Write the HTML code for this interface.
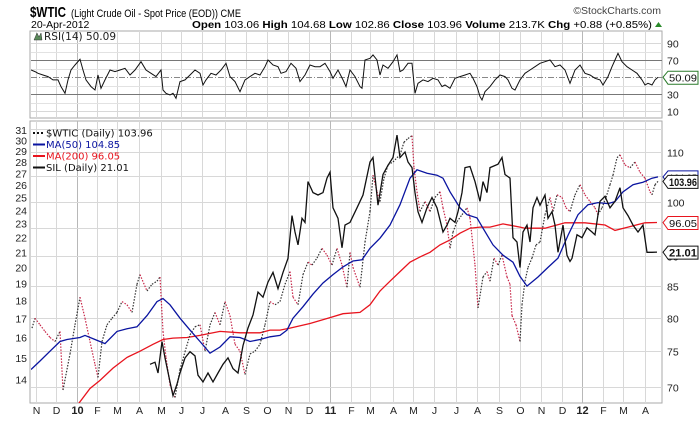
<!DOCTYPE html>
<html><head><meta charset="utf-8">
<style>
html,body{margin:0;padding:0;background:#fff;}
svg{display:block;font-family:"Liberation Sans",sans-serif;}
</style></head>
<body>
<svg id="chart" width="700" height="421" viewBox="0 0 700 421">
<g>
<text x="30" y="17" font-size="15" font-weight="bold" textLength="36" lengthAdjust="spacingAndGlyphs">$WTIC</text>
<text x="71" y="17" font-size="11" textLength="170" lengthAdjust="spacingAndGlyphs">(Light Crude Oil - Spot Price (EOD)) CME</text>
<text x="661" y="14" font-size="10.5" text-anchor="end" fill="#444">©StockCharts.com</text>
<text x="31" y="28" font-size="10.5">20-Apr-2012</text>
<text x="652" y="28" font-size="10" text-anchor="end" textLength="460" lengthAdjust="spacingAndGlyphs"><tspan font-weight="bold">Open</tspan> 103.06 <tspan font-weight="bold">High</tspan> 104.68 <tspan font-weight="bold">Low</tspan> 102.86 <tspan font-weight="bold">Close</tspan> 103.96 <tspan font-weight="bold">Volume</tspan> 213.7K <tspan font-weight="bold">Chg</tspan> +0.88 (+0.85%)</text>
<path d="M655 27 L658.5 22 L662 27 Z" fill="#2a8a2a"/>
</g>
<g id="grid"></g>
<g id="rsi"></g>
<g id="main"></g>
<g id="axes"></g>
</svg>
<script>
// ---- data (day index = trading-day position from start) ----
const monthLabels = ["N","D","10","F","M","A","M","J","J","A","S","O","N","D","11","F","M","A","M","J","J","A","S","O","N","D","12","F","M","A"];
const monthDays = [5,25,46,66,86,108,130,150,171,194,215,236,257,278,299,320,339,362,382,403,425,446,468,489,510,531,551,572,592,614];
const rightTicks = [70,75,80,85,90,95,100,105,110,115];
const rightTickLabels = [70,75,80,85,90,null,100,null,110,null];
const leftTicks = [14,15,16,17,18,19,20,21,22,23,24,25,26,27,28,29,30,31];
const rsiTicks = [10,30,50,70,90];

const wtiDays = [1,4,9,14,19,24,29,32,39,44,49,54,59,64,67,71,76,81,86,91,96,101,106,109,116,121,126,129,132,135,139,144,149,154,159,164,169,174,179,184,189,194,199,204,209,214,219,224,229,234,239,244,249,254,259,262,267,272,277,281,286,291,296,301,306,311,316,319,322,329,334,339,342,346,349,353,357,362,366,369,373,377,381,383,386,389,394,399,404,409,412,416,419,422,426,431,436,439,444,447,452,456,459,463,467,471,476,479,481,485,489,491,494,497,501,505,509,514,519,522,526,531,535,539,544,549,554,559,564,567,571,575,579,582,586,589,594,599,604,609,614,619,621,624,627];
const wtiVals = [78.4,79.9,78.9,77.9,77.0,76.4,77.9,69.6,74.6,78.9,83.2,79.9,76.4,73.1,71.3,76.4,78.9,79.9,80.8,82.5,82.0,80.8,85.3,86.9,84.2,85.3,85.8,86.5,77.9,74.1,70.3,68.6,72.4,74.9,77.4,78.6,78.9,75.0,78.9,80.8,78.9,82.5,80.3,76.0,75.0,71.7,74.6,75.0,76.0,78.9,82.5,82.0,82.5,85.3,87.4,83.2,82.0,86.9,89.0,88.5,89.7,91.4,90.2,88.5,91.4,88.5,84.8,90.7,88.1,84.8,92.5,98.1,105.2,101.9,100,104.6,107.3,107.9,108.8,109.4,112.1,112.9,113.5,106.7,101.9,98.1,100,98.1,100.8,101.9,98.8,95.6,91.4,94.3,96.2,97.5,98.8,96.9,88.5,81.5,86.5,87.4,85.8,89.7,88.5,90.2,86.5,85.3,80.3,78.9,76.4,82.0,85.8,88.1,89.7,92.0,92.5,97.5,100.8,98.1,101.3,100.8,98.8,98.1,101.3,103.3,101.3,100,98.8,97.5,98.8,100.8,103.3,105.2,108.8,109.4,107.3,106.7,107.9,105.8,104.6,101.9,101.3,103.3,103.96];

const silDays = [119,124,127,131,134,139,142,146,149,154,159,164,167,172,177,182,187,192,197,202,207,212,217,222,227,232,237,242,247,252,257,261,264,267,271,274,277,282,287,292,296,299,302,307,311,314,319,326,332,339,342,347,352,357,362,366,369,374,377,381,384,387,391,396,401,406,412,416,419,424,427,431,434,439,444,449,452,456,459,467,471,474,479,482,486,489,492,496,499,502,506,509,514,517,521,524,527,532,536,539,541,546,551,556,561,564,569,574,579,584,589,592,597,602,607,612,616,621,626];
const silVals = [14.7,14.8,14.3,15.8,15.0,13.9,13.3,13.8,14.3,15.0,15.3,15.1,14.2,13.9,14.3,13.9,14.3,14.7,15.0,14.5,14.3,15.6,16.5,17.2,18.5,18.2,19.1,19.7,18.7,19.7,20.6,23.6,22.4,21.5,23.4,23.1,26.3,25.4,25.2,25.4,26.6,27.1,24.2,23.4,21.3,22.9,23.1,24.2,25.2,28.0,28.4,24.4,26.9,27.7,28.4,30.5,28.4,28.9,28.0,27.5,25.4,23.9,23.1,24.2,25.0,24.2,22.4,22.9,23.4,23.1,23.9,25.4,27.5,27.6,26.3,24.7,26.3,25.4,27.5,27.8,28.4,26.9,26.6,22.0,21.7,20.0,22.4,22.9,21.7,24.2,25.0,24.4,25.2,23.4,23.9,22.9,21.0,22.9,20.8,20.4,20.6,22.2,22.0,22.7,22.4,22.2,24.7,25.1,24.2,24.7,25.8,24.2,23.6,22.9,22.4,22.9,21.0,21.0,21.01];

const ma50Days = [0,9,19,29,36,49,54,64,74,86,96,106,116,126,132,139,149,159,169,179,189,199,209,219,229,239,249,256,262,272,282,292,302,312,322,331,339,349,359,369,379,386,396,406,412,419,429,436,446,452,462,472,482,489,496,507,517,527,537,547,557,567,577,584,592,602,612,621,627];
const ma50Vals = [72.4,73.6,75.0,76.4,76.7,77.0,77.3,76.7,76.1,77.9,78.3,78.6,80.3,82.5,83.0,82.0,79.9,78.1,76.4,74.7,75.6,77.1,77.0,76.4,76.7,77.1,77.3,78.1,79.9,81.7,83.7,85.5,86.9,88.2,89.2,89.4,91.4,93.2,95.6,99.4,104.6,106.3,105.6,105.2,104.6,101.9,98.8,97.5,96.9,95.0,92.0,90.2,89.0,86.6,85.0,86.5,88.1,89.7,93.7,97.5,99.4,99.8,99.6,100,101.9,103.3,103.8,104.6,104.85];

const ma200Days = [47,59,69,82,96,109,122,132,142,156,169,179,189,209,229,239,249,259,279,299,312,329,339,349,359,369,379,389,399,409,419,429,439,449,459,472,489,494,514,534,554,574,584,597,614,626];
const ma200Vals = [67.7,69.8,70.9,72.6,74.1,75.0,76.0,76.7,76.9,77.0,77.3,77.6,77.9,77.7,77.7,78.1,78.1,78.4,79.1,80.0,80.6,80.8,82.0,84.2,85.8,87.4,89.0,89.9,90.7,92.0,92.9,94.1,95.0,95.2,95.2,95.8,95.2,95.0,95.0,96.0,96.0,95.6,94.6,95.2,96.0,96.05];

const rsiDays = [0,4,7,12,17,22,27,30,34,37,40,44,49,52,55,60,64,67,70,74,79,84,89,94,99,104,110,115,120,125,130,132,135,139,142,145,149,154,159,164,169,172,175,180,185,190,195,199,204,209,214,219,224,229,234,237,242,247,250,255,260,265,269,274,279,284,289,294,299,302,307,312,315,319,324,329,331,334,339,342,346,349,352,357,362,366,369,372,377,381,384,387,392,397,402,407,411,414,419,424,429,434,439,442,446,449,451,454,459,464,469,474,477,481,484,489,494,499,504,509,514,519,524,529,534,539,544,549,554,559,564,569,572,577,581,584,587,591,596,601,606,611,614,617,621,624,627];
const rsiVals = [58.6,56.7,54.7,52.7,50.8,46.9,46.9,39.0,31.2,46.9,58.6,64.5,71.2,58.6,46.9,39.0,35.1,52.7,37.1,46.9,58.6,56.7,58.6,60.6,52.7,58.6,68.4,58.6,54.7,50.8,58.6,35.1,31.2,29.2,31.2,25.3,44.9,46.9,52.7,58.6,54.7,41.0,46.9,54.7,52.7,58.6,66.5,50.8,44.9,33.1,46.9,50.8,54.7,52.7,62.5,70.4,64.5,62.5,54.7,56.7,66.5,60.6,44.9,52.7,64.5,62.5,62.5,66.5,56.7,48.8,58.6,46.9,39.0,58.6,50.8,39.0,37.1,70.4,72.4,76.3,70.4,52.7,64.5,60.6,68.4,76.3,56.7,58.6,66.5,66.5,31.2,42.9,46.9,44.9,48.8,46.9,39.0,41.0,37.1,48.8,50.8,52.7,54.7,48.8,39.0,27.3,23.3,33.1,39.0,46.9,52.7,50.8,46.9,37.1,35.1,46.9,54.7,58.6,62.5,66.5,68.4,70.4,62.5,64.5,58.6,42.9,58.6,64.5,54.7,52.7,48.8,46.9,41.0,50.8,62.5,70.4,78.2,68.4,62.5,58.6,54.7,46.9,41.0,42.9,41.0,46.9,50.09];

// ---- scales ----
const PL = 31, PR = 662, RT = 31, RB = 118, MT = 121, MB = 403;
function xOf(d){ return PL + d; }
function yW(v){ return 152 - 520 * Math.log(v / 110); }
function yS(v){ return 130 - 314 * Math.log(v / 31); }
function yR(v){ return 77.3 - (v - 50) * 0.85; }

const NS = "http://www.w3.org/2000/svg";
function mk(tag, attrs, parent){
  const el = document.createElementNS(NS, tag);
  for (const k in attrs) el.setAttribute(k, attrs[k]);
  parent.appendChild(el);
  return el;
}
const svg = document.getElementById('chart');
const gGrid = document.getElementById('grid');
const gRsi = document.getElementById('rsi');
const gMain = document.getElementById('main');
const gAxes = document.getElementById('axes');

const defs = mk('defs', {}, svg);
const cm = mk('clipPath', {id:'clipMain'}, defs);
mk('rect', {x:PL, y:MT, width:PR-PL, height:MB-MT}, cm);
const cr = mk('clipPath', {id:'clipRsi'}, defs);
mk('rect', {x:PL, y:RT, width:PR-PL, height:RB-RT}, cr);

const rsiBox = mk('rect', {x:PL-1, y:RT, width:PR-PL+1, height:RB-RT, fill:'#fff', stroke:'#aaa', 'stroke-width':1}, gGrid);


const mainBox = mk('rect', {x:PL-1, y:MT, width:PR-PL+1, height:MB-MT, fill:'#fff', stroke:'#aaa', 'stroke-width':1}, gGrid);



monthDays.forEach((d, i) => {
  const x = xOf(d) + 0.5;
  const isYear = /^\d+$/.test(monthLabels[i]);
  const c = isYear ? '#b8b8b8' : '#d8d8d8';
  const l1 = mk('line', {x1:x, x2:x, y1:RT, y2:RB, stroke:c, 'stroke-width':1}, gGrid);
  
  
  const l2 = mk('line', {x1:x, x2:x, y1:MT, y2:MB, stroke:c, 'stroke-width':1}, gGrid);
  
  
  const t = mk('text', {x:x, y:414, 'font-size':isYear?11:10.5, 'font-weight':isYear?'bold':'normal', 'text-anchor':'middle', fill:'#222'}, gAxes);
  t.textContent = monthLabels[i];
  
  
});

rightTicks.forEach((v, i) => {
  const y = Math.round(yW(v)) + 0.5;
  if (y < MT || y > MB) return;
  const l = mk('line', {x1:PL, x2:PR, y1:y, y2:y, stroke:'#d8d8d8', 'stroke-width':1}, gGrid);
  
  
  if (rightTickLabels[i] !== null) {
    const t = mk('text', {x:667, y:y+4, 'font-size':10.5, fill:'#222'}, gAxes);
    t.textContent = rightTickLabels[i];
    
    
  }
});
leftTicks.forEach(v => {
  const y = yS(v);
  const t = mk('text', {x:27, y:y+4, 'font-size':10.5, 'text-anchor':'end', fill:'#222'}, gAxes);
  t.textContent = v;
  
  
});

[20,40,60,80].forEach(v => {
  const y = Math.round(yR(v)) + 0.5;
  const l = mk('line', {x1:PL, x2:PR, y1:y, y2:y, stroke:'#e2e2e2', 'stroke-width':1}, gGrid);
  
  
});
rsiTicks.forEach(v => {
  const y = Math.round(yR(v)) + 0.5;
  let attrs = {x1:PL, x2:PR, y1:y, y2:y, stroke:'#d8d8d8', 'stroke-width':1};
  if (v === 30 || v === 70) attrs.stroke = '#777';
  if (v === 50) { attrs.stroke = '#888'; attrs['stroke-dasharray'] = '6,2,1,2'; }
  const l = mk('line', attrs, gGrid);
  
  
  const t = mk('text', {x:667, y:y+4, 'font-size':10.5, fill:'#222'}, gAxes);
  t.textContent = v;
  
  
});

function pathD(days, vals, yf){
  const n = Math.min(days.length, vals.length);
  let d = '';
  for (let i = 0; i < n; i++) d += (i ? 'L' : 'M') + xOf(days[i]).toFixed(1) + ' ' + yf(vals[i]).toFixed(1);
  return d;
}

const rsiPath = mk('path', {d:pathD(rsiDays, rsiVals, yR), fill:'none', stroke:'#111', 'stroke-width':1, 'clip-path':'url(#clipRsi)'}, gRsi);



const rl = mk('text', {x:44, y:40, 'font-size':10.5, 'font-family':'DejaVu Sans, sans-serif', fill:'#222'}, gAxes);
rl.textContent = 'RSI(14) 50.09';


const ri = mk('path', {d:'M34 40 L37 33 L39 37 L41 33 L42 40 Z', fill:'#5a8a5a', stroke:'#333', 'stroke-width':0.5}, gAxes);



const p200 = mk('path', {d:pathD(ma200Days, ma200Vals, yW), fill:'none', stroke:'#e8141e', 'stroke-width':1.3, 'clip-path':'url(#clipMain)'}, gMain);



const gW = mk('g', {'clip-path':'url(#clipMain)'}, gMain);


const nW = Math.min(wtiDays.length, wtiVals.length);
for (let i = 1; i < nW; i++) {
  const up = wtiVals[i] >= wtiVals[i-1];
  const seg = mk('line', {x1:xOf(wtiDays[i-1]), y1:yW(wtiVals[i-1]), x2:xOf(wtiDays[i]), y2:yW(wtiVals[i]), stroke: up ? '#333' : '#c8284a', 'stroke-width':1.2, 'stroke-dasharray':'1.5,1.5'}, gW);
  
  
}

const p50 = mk('path', {d:pathD(ma50Days, ma50Vals, yW), fill:'none', stroke:'#0a14a0', 'stroke-width':1.3, 'clip-path':'url(#clipMain)'}, gMain);



const pS = mk('path', {d:pathD(silDays, silVals, yS), fill:'none', stroke:'#111', 'stroke-width':1.3, 'clip-path':'url(#clipMain)'}, gMain);



const legend = [
  {label:'$WTIC (Daily) 103.96', color:'#111', dash:'2,2', tc:'#111'},
  {label:'MA(50) 104.85', color:'#0a14a0', dash:null, tc:'#0a14a0'},
  {label:'MA(200) 96.05', color:'#e8141e', dash:null, tc:'#e8141e'},
  {label:'SIL (Daily) 21.01', color:'#111', dash:null, tc:'#111'}
];
const gL = mk('g', {}, gMain);


legend.forEach((e, i) => {
  const y = 133 + i * 11.5;
  const a = {x1:33, x2:45, y1:y, y2:y, stroke:e.color, 'stroke-width':2};
  if (e.dash) a['stroke-dasharray'] = e.dash;
  const sw = mk('line', a, gL);
  
  
  const t = mk('text', {x:46, y:y+3.5, 'font-size':10, 'font-family':'DejaVu Sans, sans-serif', fill:e.tc}, gL);
  t.textContent = e.label;
  
  
});

function tag(y, text, color, bold, name){
  const g = mk('g', {}, gAxes);
  
  
  mk('path', {d:`M663 ${y} L668 ${y-6} L698 ${y-6} L698 ${y+7} L668 ${y+7} Z`, fill:'#fff', stroke:color, 'stroke-width':1}, g);
  const t = mk('text', {x:669, y:y+4.5, 'font-size':bold?11:10.5, 'font-weight':bold?'bold':'normal', fill:'#111', textLength:28, lengthAdjust:'spacingAndGlyphs'}, g);
  t.textContent = text;
}
tag(yW(ma50Vals[ma50Vals.length-1]), '104.85', '#0a14a0', false, 'ma50-value-tag');
tag(yW(wtiVals[wtiVals.length-1]), '103.96', '#111', true, 'wtic-value-tag');
tag(yW(ma200Vals[ma200Vals.length-1]), '96.05', '#e8141e', false, 'ma200-value-tag');
tag(yS(silVals[silVals.length-1]), '21.01', '#111', true, 'sil-value-tag');
tag(yR(rsiVals[rsiVals.length-1]), '50.09', '#2a7a2a', false, 'rsi-value-tag');
</script>
</body></html>
